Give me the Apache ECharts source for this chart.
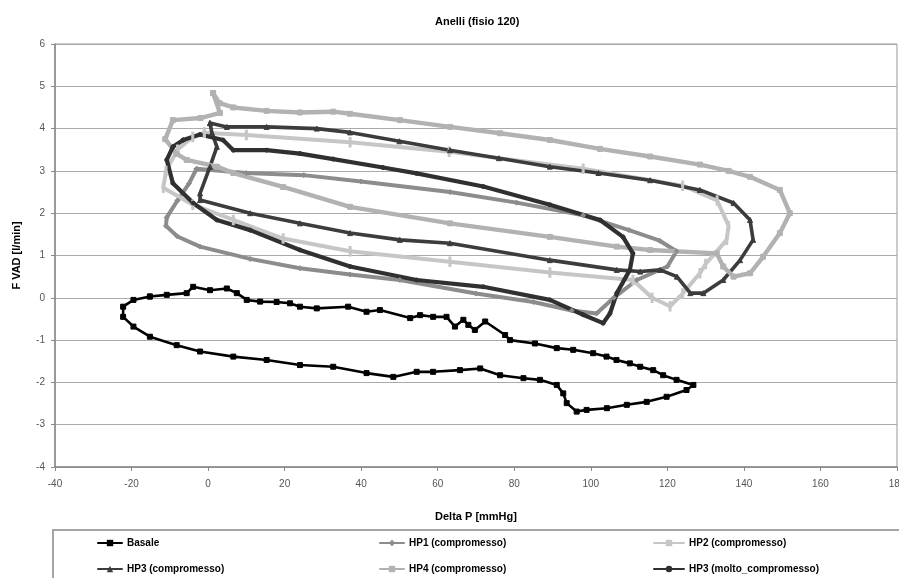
<!DOCTYPE html>
<html>
<head>
<meta charset="utf-8">
<script src="https://cdn.jsdelivr.net/npm/echarts@6/dist/echarts.min.js"></script>
<style>html,body{margin:0;padding:0;background:#fff}#c{width:899px;height:578px}</style>
</head>
<body>
<div id="c"></div>
<script>
var xTicks = [-40, 180, 20];
var yTicks = [-4, 6, 1];
var seriesNames = ['Basale', 'HP1 (compromesso)', 'HP2 (compromesso)', 'HP3 (compromesso)', 'HP4 (compromesso)', 'HP3 (molto_compromesso)'];

var basale = [[-15.2,0.03],[-10.8,0.07],[-5.6,0.11],[-3.9,0.26],[0.5,0.18],[4.9,0.22],[7.5,0.11],[10.1,-0.05],[13.6,-0.09],[17.9,-0.1],[21.4,-0.13],[24,-0.21],[28.4,-0.25],[36.6,-0.21],[41.4,-0.33],[44.9,-0.29],[52.8,-0.48],[55.4,-0.41],[58.8,-0.45],[62.3,-0.45],[64.5,-0.68],[66.7,-0.52],[68,-0.64],[69.7,-0.76],[72.4,-0.56],[77.6,-0.88],[78.9,-1.0],[85.4,-1.08],[91.1,-1.19],[95.4,-1.23],[100.6,-1.31],[104.1,-1.39],[106.7,-1.47],[110.2,-1.55],[112.9,-1.63],[116.3,-1.71],[118.9,-1.83],[122.4,-1.94],[126.8,-2.06],[125,-2.18],[119.8,-2.34],[114.6,-2.46],[109.4,-2.53],[104.2,-2.61],[98.9,-2.65],[96.3,-2.69],[93.7,-2.49],[92.8,-2.26],[91.1,-2.06],[86.7,-1.94],[82.4,-1.9],[76.3,-1.83],[71.1,-1.67],[65.8,-1.71],[58.8,-1.75],[54.5,-1.75],[48.4,-1.87],[41.4,-1.78],[32.7,-1.63],[24,-1.59],[15.3,-1.47],[6.6,-1.39],[-2.1,-1.27],[-8.2,-1.12],[-15.2,-0.92],[-19.5,-0.68],[-22.2,-0.45],[-22.2,-0.21],[-19.5,-0.05],[-15.2,0.03]];

var hp1 = [[-3,3.05],[10,2.95],[25,2.9],[40,2.75],[63.2,2.5],[80.6,2.25],[98,1.95],[110,1.6],[118,1.35],[122.4,1.1],[120,0.74],[112,0.42],[106,0.0],[101.5,-0.37],[95,-0.3],[85,-0.1],[70,0.1],[50.1,0.42],[37.1,0.55],[24,0.7],[11,0.92],[-2.1,1.21],[-8,1.45],[-11,1.7],[-10.8,1.9],[-8,2.3],[-5,2.7],[-3,3.05]];

var hp2 = [[-1,3.9],[10,3.85],[37.1,3.68],[63,3.45],[98,3.05],[124,2.65],[133,2.3],[136,1.7],[135.5,1.37],[130,0.8],[128.5,0.58],[124,0.1],[120.7,-0.2],[116,0.0],[111,0.42],[89.3,0.6],[63.2,0.85],[37.1,1.1],[19.6,1.4],[6.6,1.84],[-4,2.2],[-11.7,2.6],[-11,3.0],[-8,3.5],[-4,3.8],[-1,3.9]];

var hp3 = [[0.5,4.13],[4.9,4.04],[15.3,4.04],[28.4,4.0],[37.1,3.91],[50,3.7],[63.2,3.49],[76,3.3],[89.3,3.1],[102,2.95],[115.5,2.78],[128.5,2.55],[137.3,2.24],[141.6,1.84],[142.4,1.37],[139,0.89],[134.6,0.42],[129.4,0.11],[126,0.11],[122.5,0.5],[118.1,0.66],[112.9,0.62],[106.8,0.66],[89.3,0.89],[63.2,1.29],[50.1,1.37],[37.1,1.53],[24,1.76],[11,2.0],[-2.1,2.31],[-2.1,2.47],[0.5,3.1],[2.3,3.57],[1,3.9],[0.5,4.13]];

var hp4 = [[1.3,4.84],[3,4.6],[6.6,4.5],[15.3,4.42],[24,4.38],[32.7,4.4],[37.1,4.35],[50.1,4.2],[63.2,4.04],[76.3,3.89],[89.3,3.73],[102.4,3.52],[115.5,3.34],[128.5,3.15],[136,3.0],[141.6,2.86],[149.4,2.55],[152,2.0],[149.4,1.53],[145,0.97],[141.6,0.58],[137.3,0.5],[134.6,0.74],[132.9,1.05],[115.5,1.13],[106.8,1.21],[89.3,1.44],[63.2,1.76],[37.1,2.15],[19.6,2.62],[6.6,2.95],[2.3,3.1],[-5.6,3.26],[-8.2,3.4],[-11.2,3.75],[-9.2,4.2],[-2,4.25],[3.1,4.37],[1.3,4.84]];

var hp3m = [[-6.5,3.73],[-2.1,3.86],[3.9,3.73],[6.6,3.49],[15.3,3.49],[24,3.41],[32.7,3.28],[45.7,3.08],[54.5,2.94],[71.9,2.63],[89.3,2.2],[102.4,1.84],[108.4,1.44],[111,1.05],[110.2,0.66],[106.8,0.11],[105,-0.37],[103.2,-0.6],[98,-0.4],[89.3,-0.05],[71.9,0.26],[54.5,0.42],[37.1,0.74],[24,1.13],[11,1.6],[2.3,1.84],[-3.9,2.24],[-9.2,2.71],[-10.8,3.26],[-9.2,3.57],[-6.5,3.73]];

var FONT = 'Liberation Sans, Arial, sans-serif';
function mk(name, data, color, symbol, size, width) {
  return {
    name: name, type: 'line', data: data, smooth: false,
    showAllSymbol: true, symbol: symbol, symbolSize: size,
    lineStyle: { color: color, width: width, join: 'round', cap: 'round' },
    itemStyle: { color: color, borderColor: color },
    emphasis: { disabled: true }, animation: false
  };
}
var chart = echarts.init(document.getElementById('c'));
var legendText = { fontFamily: FONT, fontSize: 10, fontWeight: 'bold', color: '#000' };
function lg(names, left, w) {
  return { data: names, orient: 'vertical', left: left, top: 538, height: 60, padding: 0,
    itemWidth: w, itemHeight: 8, itemGap: 16, textStyle: legendText };
}
chart.setOption({
  animation: false,
  backgroundColor: '#fff',
  title: { text: 'Anelli (fisio 120)', left: 430, top: 11,
    textStyle: { fontFamily: FONT, fontSize: 11, fontWeight: 'bold', color: '#000' } },
  grid: { left: 55, right: 2, top: 44, bottom: 111, show: true, borderColor: '#999', borderWidth: 1,
    outerBoundsMode: 'none', containLabel: false },
  xAxis: {
    type: 'value', min: xTicks[0], max: xTicks[1], interval: xTicks[2],
    name: 'Delta P [mmHg]', nameLocation: 'middle', nameGap: 44,
    nameTextStyle: { fontFamily: FONT, fontSize: 11, fontWeight: 'bold', color: '#000' },
    axisLine: { onZero: false, lineStyle: { color: '#888', width: 1.5 } },
    axisTick: { show: true, length: 4, lineStyle: { color: '#888' } },
    axisLabel: { fontFamily: FONT, fontSize: 10, color: '#555', margin: 12 },
    splitLine: { show: false }
  },
  yAxis: {
    type: 'value', min: yTicks[0], max: yTicks[1], interval: yTicks[2],
    name: 'F VAD [l/min]', nameLocation: 'middle', nameGap: 33, nameRotate: 90,
    nameTextStyle: { fontFamily: FONT, fontSize: 11, fontWeight: 'bold', color: '#000' },
    axisLine: { show: true, onZero: false, lineStyle: { color: '#888', width: 1.5 } },
    axisTick: { show: true, length: 4, lineStyle: { color: '#888' } },
    axisLabel: { fontFamily: FONT, fontSize: 10, color: '#555', margin: 10 },
    splitLine: { show: true, lineStyle: { color: '#aaa', width: 1.2 } }
  },
  graphic: [{ type: 'rect', shape: { x: 53, y: 530, width: 900, height: 70 },
    style: { fill: 'none', stroke: '#888', lineWidth: 1.5 }, z: 1 }],
  legend: [
    lg([seriesNames[0], seriesNames[3]], 97, 24),
    lg([seriesNames[1], seriesNames[4]], 379, 24),
    lg([seriesNames[2], seriesNames[5]], 653, 30)
  ],
  series: [
    mk(seriesNames[0], basale, '#000000', 'rect', 5, 2.6),
    mk(seriesNames[1], hp1, '#8c8c8c', 'diamond', 5, 4),
    mk(seriesNames[2], hp2, '#c6c6c6', 'rect', [2, 7], 4),
    mk(seriesNames[3], hp3, '#3c3c3c', 'triangle', 5, 3.6),
    mk(seriesNames[4], hp4, '#b2b2b2', 'rect', 5, 4.4),
    mk(seriesNames[5], hp3m, '#303030', 'circle', 4, 4.2)
  ]
});
</script>
</body>
</html>
